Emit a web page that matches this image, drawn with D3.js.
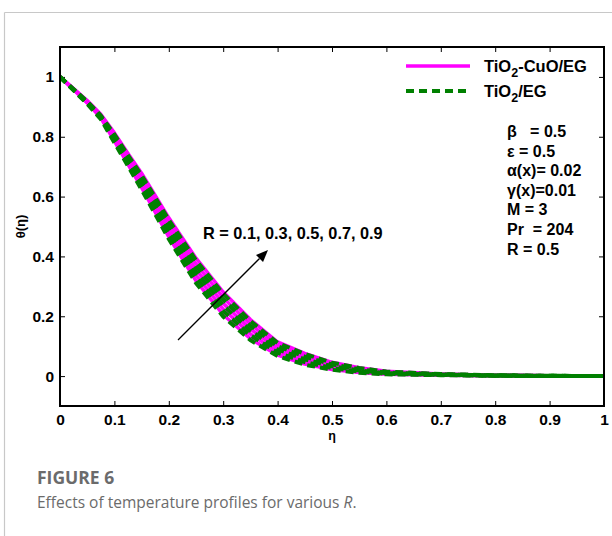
<!DOCTYPE html>
<html>
<head>
<meta charset="utf-8">
<script src="https://cdn.jsdelivr.net/npm/d3@7"></script>
<style>
  html, body { margin: 0; padding: 0; background: #fff; }
  svg { display: block; }
</style>
</head>
<body>
<svg id="chart" width="612" height="536"></svg>
<script>
// Similarity variable η
const eta = [0, 0.025, 0.05, 0.075, 0.1, 0.125, 0.15, 0.175, 0.2, 0.25, 0.3, 0.35, 0.4, 0.45, 0.5, 0.55, 0.6, 0.7, 0.8, 0.9, 1.0];

// Radiation parameter values
const rValues = [0.1, 0.3, 0.5, 0.7, 0.9];

// θ(η) for the hybrid nanofluid TiO2-CuO/EG, one row per R
const thetaHybrid = [
  [1, 0.957, 0.913, 0.863, 0.785, 0.708, 0.630, 0.548, 0.465, 0.318, 0.205, 0.125, 0.070, 0.040, 0.022, 0.012, 0.006, 0.003, 0.001, 0.000, 0.000],
  [1, 0.958, 0.915, 0.866, 0.792, 0.717, 0.642, 0.562, 0.481, 0.337, 0.224, 0.141, 0.081, 0.049, 0.028, 0.016, 0.009, 0.004, 0.001, 0.000, 0.000],
  [1, 0.959, 0.917, 0.869, 0.799, 0.726, 0.654, 0.576, 0.497, 0.356, 0.243, 0.157, 0.092, 0.058, 0.034, 0.020, 0.011, 0.005, 0.002, 0.001, 0.000],
  [1, 0.960, 0.919, 0.872, 0.806, 0.735, 0.666, 0.590, 0.513, 0.375, 0.262, 0.173, 0.103, 0.067, 0.040, 0.024, 0.013, 0.006, 0.002, 0.001, 0.000],
  [1, 0.961, 0.921, 0.875, 0.813, 0.744, 0.678, 0.604, 0.529, 0.394, 0.281, 0.189, 0.114, 0.076, 0.046, 0.028, 0.016, 0.007, 0.003, 0.001, 0.000]
];

// θ(η) for the mono nanofluid TiO2/EG, one row per R
const thetaMono = [
  [1, 0.955, 0.910, 0.859, 0.780, 0.702, 0.623, 0.541, 0.458, 0.311, 0.199, 0.120, 0.067, 0.038, 0.021, 0.011, 0.006, 0.003, 0.001, 0.000, 0.000],
  [1, 0.956, 0.912, 0.862, 0.787, 0.711, 0.635, 0.555, 0.474, 0.330, 0.218, 0.136, 0.078, 0.047, 0.027, 0.015, 0.008, 0.004, 0.001, 0.000, 0.000],
  [1, 0.957, 0.914, 0.865, 0.794, 0.720, 0.647, 0.569, 0.490, 0.349, 0.237, 0.152, 0.089, 0.056, 0.033, 0.019, 0.010, 0.005, 0.002, 0.001, 0.000],
  [1, 0.958, 0.916, 0.868, 0.801, 0.729, 0.659, 0.583, 0.506, 0.368, 0.256, 0.168, 0.100, 0.065, 0.039, 0.023, 0.012, 0.006, 0.002, 0.001, 0.000],
  [1, 0.959, 0.918, 0.871, 0.808, 0.738, 0.671, 0.597, 0.522, 0.387, 0.275, 0.184, 0.111, 0.074, 0.045, 0.027, 0.015, 0.007, 0.003, 0.001, 0.000]
];

const xTicks = [0, 0.1, 0.2, 0.3, 0.4, 0.5, 0.6, 0.7, 0.8, 0.9, 1];
const yTicks = [0, 0.2, 0.4, 0.6, 0.8, 1];

const legendNames = ["TiO", "-CuO/EG", "TiO", "/EG"];
const paramLines = ["\u03b2   = 0.5", "\u03b5 = 0.5", "\u03b1(x)= 0.02", "\u03b3(x)=0.01", "M = 3", "Pr  = 204", "R = 0.5"];
const rLabel = "R = 0.1, 0.3, 0.5, 0.7, 0.9";

const svg = d3.select("#chart");
const font = "'Liberation Sans', Arial, sans-serif";

// Page frame lines (top and left)
svg.append("line").attr("x1", 4.5).attr("x2", 612).attr("y1", 12.5).attr("y2", 12.5)
  .attr("stroke", "#c8c8c8").attr("stroke-width", 1.2);
svg.append("line").attr("x1", 4.5).attr("x2", 4.5).attr("y1", 12.5).attr("y2", 536)
  .attr("stroke", "#c8c8c8").attr("stroke-width", 1.2);

const plot = { left: 60, right: 604, top: 47, bottom: 406 };
const x = d3.scaleLinear().domain([0, 1]).range([plot.left, plot.right]);
const y = d3.scaleLinear().domain([-0.1, 1.1]).range([plot.bottom, plot.top]);

svg.append("defs").append("clipPath").attr("id", "plotClip")
  .append("rect").attr("x", plot.left).attr("y", plot.top)
  .attr("width", plot.right - plot.left).attr("height", plot.bottom - plot.top);

// Axes with inward ticks on all four sides
const tickLen = 5;
const axB = svg.append("g").attr("transform", `translate(0,${plot.bottom})`)
  .call(d3.axisBottom(x).tickValues(xTicks).tickSizeInner(-tickLen).tickSizeOuter(0)
    .tickPadding(8).tickFormat(d => d3.format("")(d)));
const axT = svg.append("g").attr("transform", `translate(0,${plot.top})`)
  .call(d3.axisTop(x).tickValues(xTicks).tickSizeInner(-tickLen).tickSizeOuter(0).tickFormat(""));
const axL = svg.append("g").attr("transform", `translate(${plot.left},0)`)
  .call(d3.axisLeft(y).tickValues(yTicks).tickSizeInner(-tickLen).tickSizeOuter(0)
    .tickPadding(6).tickFormat(d => d3.format("")(d)));
const axR = svg.append("g").attr("transform", `translate(${plot.right},0)`)
  .call(d3.axisRight(y).tickValues(yTicks).tickSizeInner(-tickLen).tickSizeOuter(0).tickFormat(""));

[axB, axT, axL, axR].forEach(a => {
  a.attr("font-family", font).attr("font-size", 15.5);
  a.select(".domain").remove();
  a.selectAll(".tick line").attr("stroke", "#000").attr("stroke-width", 1);
  a.selectAll("text").attr("font-family", font).attr("font-weight", "bold")
    .attr("font-size", 15.5).attr("fill", "#000");
});
axB.selectAll("text").attr("dy", "0.71em");

// Curves
const line = d3.line().x((d, i) => x(eta[i])).y(d => y(d)).curve(d3.curveLinear);
const curves = svg.append("g").attr("clip-path", "url(#plotClip)");
thetaHybrid.forEach(row => {
  curves.append("path").datum(row).attr("d", line)
    .attr("fill", "none").attr("stroke", "#ff00ff").attr("stroke-width", 3.5)
    .attr("stroke-linejoin", "round");
});
thetaMono.forEach(row => {
  curves.append("path").datum(row).attr("d", line)
    .attr("fill", "none").attr("stroke", "#008000").attr("stroke-width", 4)
    .attr("stroke-dasharray", "8,5");
});

// Plot box
svg.append("rect").attr("x", plot.left).attr("y", plot.top)
  .attr("width", plot.right - plot.left).attr("height", plot.bottom - plot.top)
  .attr("fill", "none").attr("stroke", "#000").attr("stroke-width", 2);

// Axis titles
svg.append("text").attr("x", x(0.5)).attr("y", 440).attr("text-anchor", "middle")
  .attr("font-family", font).attr("font-weight", "bold").attr("font-size", 12.5)
  .text("\u03b7");
svg.append("text").attr("transform", `translate(25,${y(0.5)}) rotate(-90)`)
  .attr("text-anchor", "middle").attr("font-family", font).attr("font-weight", "bold")
  .attr("font-size", 13).text("\u03b8(\u03b7)");

// Legend
const leg = svg.append("g");
leg.append("line").attr("x1", 406).attr("x2", 470).attr("y1", 66).attr("y2", 66)
  .attr("stroke", "#ff00ff").attr("stroke-width", 3.5);
leg.append("line").attr("x1", 406).attr("x2", 470).attr("y1", 91).attr("y2", 91)
  .attr("stroke", "#008000").attr("stroke-width", 4).attr("stroke-dasharray", "8,5");
const legText = (yy, a, b) => {
  const t = leg.append("text").attr("x", 484).attr("y", yy)
    .attr("font-family", font).attr("font-weight", "bold").attr("font-size", 16.5);
  t.append("tspan").text(a);
  t.append("tspan").attr("dy", 5).attr("font-size", 12.5).text("2");
  t.append("tspan").attr("dy", -5).text(b);
};
legText(72, legendNames[0], legendNames[1]);
legText(97, legendNames[2], legendNames[3]);

// Parameter block
svg.append("g").selectAll("text").data(paramLines).join("text")
  .attr("x", 507).attr("y", (d, i) => 137 + i * 19.6)
  .attr("font-family", font).attr("font-weight", "bold").attr("font-size", 16)
  .style("white-space", "pre")
  .text(d => d);

// R annotation with arrow
svg.append("text").attr("x", 203).attr("y", 239)
  .attr("font-family", font).attr("font-weight", "bold").attr("font-size", 16.3)
  .text(rLabel);
const ax0 = [178, 340], ax1 = [268, 250];
const ang = Math.atan2(ax1[1] - ax0[1], ax1[0] - ax0[0]);
const headLen = 12, headW = 5;
const base = [ax1[0] - headLen * Math.cos(ang), ax1[1] - headLen * Math.sin(ang)];
svg.append("line").attr("x1", ax0[0]).attr("y1", ax0[1]).attr("x2", base[0]).attr("y2", base[1])
  .attr("stroke", "#000").attr("stroke-width", 1.3);
svg.append("path")
  .attr("d", `M${ax1[0]},${ax1[1]} L${base[0] + headW * Math.sin(ang)},${base[1] - headW * Math.cos(ang)} L${base[0] - headW * Math.sin(ang)},${base[1] + headW * Math.cos(ang)} Z`)
  .attr("fill", "#000");

// Caption
const capFont = "'Open Sans', 'Noto Sans', sans-serif";
svg.append("text").attr("x", 37).attr("y", 484)
  .attr("font-family", capFont).attr("font-weight", "bold").attr("font-size", 17.5)
  .attr("fill", "#6b6b6b").text("FIGURE 6");
const cap = svg.append("text").attr("x", 37).attr("y", 508)
  .attr("font-family", capFont).attr("font-size", 15.5)
  .attr("fill", "#6b6b6b");
cap.append("tspan").text("Effects of temperature profiles for various ");
cap.append("tspan").attr("font-style", "italic").text("R");
cap.append("tspan").text(".");
</script>
</body>
</html>
